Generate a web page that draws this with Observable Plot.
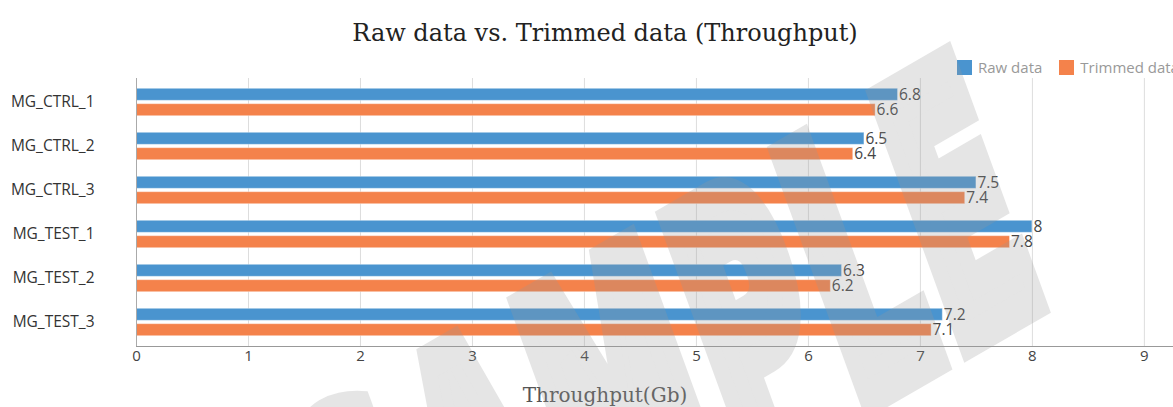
<!DOCTYPE html>
<html>
<head>
<meta charset="utf-8">
<script src="https://cdn.jsdelivr.net/npm/d3@7"></script>
<script src="https://cdn.jsdelivr.net/npm/@observablehq/plot@0.6"></script>
<style>
  html, body { margin: 0; padding: 0; background: #fff; }
  #wrap { position: relative; width: 1173px; height: 407px; overflow: hidden; font-family: "Open Sans", sans-serif; }
  #header { position: relative; height: 78px; }
  #title { position: absolute; left: 605px; top: 18px; transform: translateX(-50%); white-space: nowrap;
           font-family: "DejaVu Serif", serif; font-size: 24px; color: #222; line-height: 30px; }
  #legend { position: absolute; left: 957px; top: 60px; white-space: nowrap; display: flex; align-items: center;
            font-size: 15px; color: #999; line-height: 15px; }
  .sw { display: inline-block; width: 15px; height: 15px; margin-right: 6px; }
  .item { display: inline-flex; align-items: center; margin-right: 17px; }
  #chart svg { display: block; }
  #footer { position: relative; height: 39px; }
  #xlabel { position: absolute; left: 605px; top: 12px; transform: translateX(-50%); white-space: nowrap;
            font-family: "DejaVu Serif", serif; font-size: 20px; color: #555; line-height: 30px; }
  #wm { position: absolute; left: 0; top: 0; pointer-events: none; }
</style>
</head>
<body>
<div id="wrap">
  <div id="header">
    <div id="title"></div>
    <div id="legend"></div>
  </div>
  <div id="chart"></div>
  <div id="footer"><div id="xlabel"></div></div>
</div>
<script>
const titleText = "Raw data vs. Trimmed data (Throughput)";
const xLabelText = "Throughput(Gb)";
const categories = ["MG_CTRL_1", "MG_CTRL_2", "MG_CTRL_3", "MG_TEST_1", "MG_TEST_2", "MG_TEST_3"];
const seriesNames = ["Raw data", "Trimmed data"];
const rawValues = [6.8, 6.5, 7.5, 8, 6.3, 7.2];
const trimmedValues = [6.6, 6.4, 7.4, 7.8, 6.2, 7.1];
const xTicks = [0, 1, 2, 3, 4, 5, 6, 7, 8, 9];
const seriesColors = ["#4a94cf", "#f4824b"];
const watermarkText = "SAMPLE";

document.getElementById("title").textContent = titleText;
document.getElementById("xlabel").textContent = xLabelText;

const legend = document.getElementById("legend");
seriesNames.forEach((name, i) => {
  const item = document.createElement("span");
  item.className = "item";
  const sw = document.createElement("span");
  sw.className = "sw";
  sw.style.background = seriesColors[i];
  const t = document.createElement("span");
  t.textContent = name;
  item.appendChild(sw);
  item.appendChild(t);
  legend.appendChild(item);
});

const raw = categories.map((c, i) => ({category: c, series: seriesNames[0], value: rawValues[i]}));
const trimmed = categories.map((c, i) => ({category: c, series: seriesNames[1], value: trimmedValues[i]}));

const chart = Plot.plot({
  width: 1173,
  height: 290,
  marginTop: 0,
  marginBottom: 22,
  marginLeft: 136,
  marginRight: 0,
  style: {fontFamily: "Open Sans, sans-serif", fontSize: "15px", color: "#444", background: "transparent"},
  x: {domain: [0, 9.26]},
  y: {domain: categories, padding: 0},
  color: {domain: seriesNames, range: seriesColors},
  marks: [
    Plot.ruleX(xTicks, {stroke: "#dddddd", strokeWidth: 1}),
    Plot.barX(raw, {y: "category", x: "value", fill: "series", insetTop: 8.3, insetBottom: 23.7,
                    stroke: "#ffffff", strokeOpacity: 0.35, strokeWidth: 1}),
    Plot.barX(trimmed, {y: "category", x: "value", fill: "series", insetTop: 23.7, insetBottom: 8.3,
                    stroke: "#ffffff", strokeOpacity: 0.35, strokeWidth: 1}),
    Plot.text(raw, {y: "category", x: "value", text: "value", textAnchor: "start", dx: 1, dy: -7.7,
                    fill: "#444", fontSize: 15.5}),
    Plot.text(trimmed, {y: "category", x: "value", text: "value", textAnchor: "start", dx: 1, dy: 7.7,
                    fill: "#444", fontSize: 15.5}),
    Plot.ruleX([0], {stroke: "#aaaaaa"}),
    Plot.frame({anchor: "bottom", stroke: "#999999"}),
    Plot.axisX({ticks: xTicks, tickSize: 0, tickPadding: 4, label: null, fill: "#444"}),
    Plot.axisY({tickSize: 0, tickPadding: 42, label: null, fill: "#333", fontSize: 15.5})
  ]
});
document.getElementById("chart").appendChild(chart);

// watermark overlay
const ns = "http://www.w3.org/2000/svg";
const wm = document.createElementNS(ns, "svg");
wm.setAttribute("id", "wm");
wm.setAttribute("width", 1173);
wm.setAttribute("height", 407);
const wt = document.createElementNS(ns, "text");
wt.textContent = watermarkText;
wt.setAttribute("transform", "translate(670,375) rotate(-30) skewX(-10) scale(0.47,1)");
wt.setAttribute("text-anchor", "middle");
wt.setAttribute("dominant-baseline", "central");
wt.setAttribute("font-family", "DejaVu Sans, sans-serif");
wt.setAttribute("font-weight", "bold");
wt.setAttribute("font-size", 345);
wt.setAttribute("letter-spacing", 22);
wt.setAttribute("fill", "#999999");
wt.setAttribute("stroke", "#999999");
wt.setAttribute("stroke-width", 34);
wt.setAttribute("stroke-linejoin", "miter");
wt.setAttribute("opacity", 0.25);
wm.appendChild(wt);
document.getElementById("wrap").appendChild(wm);
</script>
</body>
</html>
